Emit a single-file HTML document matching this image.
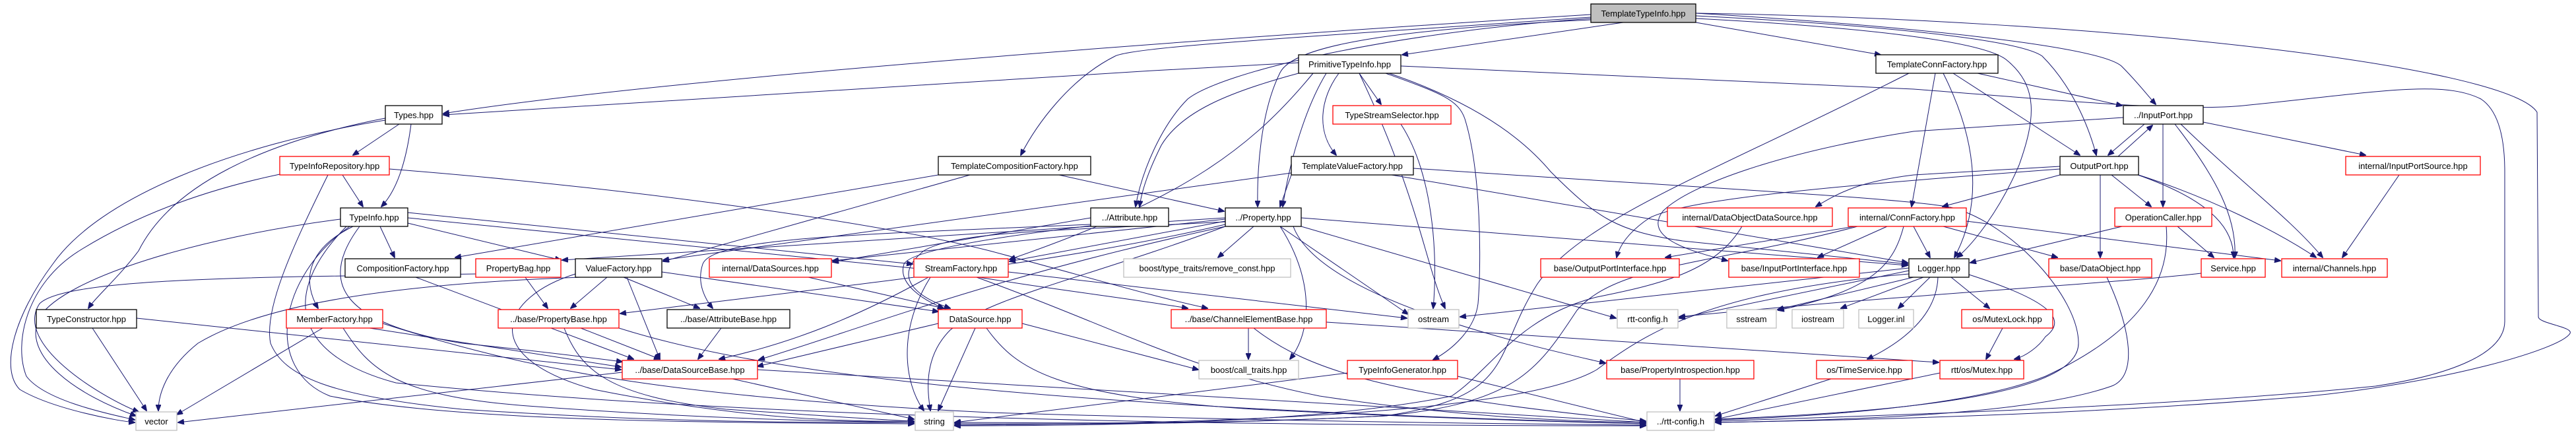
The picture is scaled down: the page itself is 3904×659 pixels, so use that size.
<!DOCTYPE html>
<html><head><meta charset="utf-8"><style>
html,body{margin:0;padding:0;background:#fff;}
svg{display:block;}
text{font-family:"Liberation Sans",sans-serif;font-size:13px;fill:#000;text-anchor:middle;}
.b{fill:#fff;stroke:#000;stroke-width:1.3;}
.r{fill:#fff;stroke:#ff0000;stroke-width:1.3;}
.g{fill:#fff;stroke:#bfbfbf;stroke-width:1.3;}
.t{fill:#bfbfbf;stroke:#000;stroke-width:1.3;}
path{fill:none;stroke:#191970;stroke-width:1;marker-end:url(#a);}
</style></head><body>
<svg width="3904" height="659" viewBox="0 0 3904 659" xmlns="http://www.w3.org/2000/svg">
<defs><marker id="a" markerWidth="10" markerHeight="8" refX="9" refY="4" orient="auto" markerUnits="userSpaceOnUse"><path d="M0,0 L10,4 L0,8 z" style="fill:#191970;stroke:#191970;marker-end:none"/></marker></defs>
<g>
<path d="M2411,22 C1800,60 1000,120 672,172"/>
<path d="M1968,95 C1500,120 1000,150 672,174"/>
<path d="M2460,34 L2125,83"/>
<path d="M2570,34 L2850,83"/>
<path d="M2411,26 C2000,55 1720,70 1690,85 C1620,120 1570,190 1547,235"/>
<path d="M2411,28 C2100,50 1850,110 1800,150 C1760,190 1730,260 1721,313"/>
<path d="M2411,30 C2100,45 1960,70 1940,110 C1910,170 1905,260 1906,313"/>
<path d="M2570,20 C2900,40 3180,70 3215,100 C3240,125 3255,145 3267,158"/>
<path d="M2570,24 C2850,38 3060,60 3095,85 C3140,130 3165,190 3177,235"/>
<path d="M2570,28 C2800,40 3000,60 3040,90 C3090,130 3085,180 3060,250 C3030,320 2990,370 2966,390"/>
<path d="M2570,20 C3200,30 3800,100 3845,170 L3847,480 C3847,490 3900,495 3895,505 C3880,530 3700,580 3500,600 C3200,625 2900,635 2600,640"/>
<path d="M2123,100 L2900,135 C3100,150 3300,170 3400,160 C3600,140 3700,120 3760,150 C3790,170 3796,220 3796,260 L3796,487 C3796,540 3700,570 3600,585 C3300,615 2900,628 2600,638"/>
<path d="M2997,111 L3216,160"/>
<path d="M2960,111 L3152,235"/>
<path d="M2933,111 L2897,313"/>
<path d="M2945,111 C2990,200 3010,300 2962,390"/>
<path d="M2893,111 C2600,260 2400,330 2330,430 C2260,540 2300,600 2100,630 C1800,645 1600,640 1447,640"/>
<path d="M2060,111 L2093,158"/>
<path d="M2029,111 C2000,150 1995,200 2025,235"/>
<path d="M1968,111 C1860,140 1790,170 1760,220 C1740,260 1730,290 1727,313"/>
<path d="M2010,111 C1980,160 1955,240 1944,313"/>
<path d="M2100,111 C2180,140 2210,150 2220,180 C2245,260 2245,400 2240,460 C2235,500 2200,530 2172,545"/>
<path d="M2105,111 C2220,150 2300,200 2350,260 C2420,330 2450,350 2550,365 C2700,380 2800,390 2891,400"/>
<path d="M1990,111 C1900,220 1800,300 1530,393"/>
<path d="M605,188 L535,235"/>
<path d="M623,188 C615,250 600,290 578,313"/>
<path d="M584,179 C400,215 260,280 210,380 C180,420 145,450 134,467"/>
<path d="M584,182 C350,220 150,300 80,400 C20,480 0,560 30,590 C80,620 180,638 204,640"/>
<path d="M519,265 L550,313"/>
<path d="M424,264 C300,290 200,330 120,380 C40,430 20,520 40,570 C70,610 180,630 204,636"/>
<path d="M497,265 C440,380 400,470 410,520 C430,570 500,600 700,620 C1000,640 1200,640 1385,640"/>
<path d="M590,256 C900,280 1300,330 1500,380 C1650,420 1750,450 1830,467"/>
<path d="M1422,265 L690,390"/>
<path d="M1605,265 L1855,320"/>
<path d="M1470,265 L1005,396"/>
<path d="M1957,265 L1940,313"/>
<path d="M2109,265 L2891,398"/>
<path d="M1957,262 L1005,394"/>
<path d="M2142,255 C2500,280 2900,300 2960,315 C3050,340 3150,450 3150,520 C3150,580 3000,620 2600,635"/>
<path d="M3250,188 L3195,235"/>
<path d="M3210,237 L3262,190"/>
<path d="M3278,188 L3278,313"/>
<path d="M3296,188 C3360,270 3390,330 3387,390"/>
<path d="M3305,188 C3400,280 3470,330 3520,390"/>
<path d="M3339,185 L3585,235"/>
<path d="M3218,178 L2900,199 C2700,230 2560,280 2520,320 C2490,360 2560,380 2618,395"/>
<path d="M3200,265 L3260,313"/>
<path d="M3183,265 L3183,390"/>
<path d="M3240,265 C3340,300 3385,340 3385,390"/>
<path d="M3241,265 C3350,300 3450,350 3510,390"/>
<path d="M3122,265 L2944,313"/>
<path d="M3122,256 C2800,280 2560,300 2500,330 C2470,350 2455,370 2450,390"/>
<path d="M3122,252 L2900,265 C2820,275 2790,290 2752,313"/>
<path d="M2811,343 L2524,390"/>
<path d="M2860,343 L2755,390"/>
<path d="M2900,343 L2925,390"/>
<path d="M2945,343 L3118,390"/>
<path d="M2980,335 L3456,395"/>
<path d="M2885,343 C2870,400 2840,440 2695,470"/>
<path d="M2815,343 C2600,400 2450,400 2390,470 C2330,560 2300,610 2100,630 C1800,645 1600,642 1447,642"/>
<path d="M2640,343 C2600,410 2520,430 2420,450 C2300,480 2260,560 2200,600 C2000,640 1700,645 1447,645"/>
<path d="M3216,343 L2986,398"/>
<path d="M3300,343 L3355,390"/>
<path d="M3283,343 C3290,420 3250,500 3100,570 C3000,610 2800,630 2600,636"/>
<path d="M3636,265 L3550,390"/>
<path d="M3193,420 C3230,500 3240,570 3200,585 C3100,620 2900,635 2600,640"/>
<path d="M3336,414 C3200,430 2900,445 2545,480"/>
<path d="M2893,406 L2213,480"/>
<path d="M2893,410 L2545,482"/>
<path d="M2900,420 L2694,469"/>
<path d="M2915,420 L2790,467"/>
<path d="M2925,420 L2877,467"/>
<path d="M2957,420 L3015,467"/>
<path d="M2937,420 C2935,480 2880,520 2830,544"/>
<path d="M2984,416 C3090,450 3140,480 3100,510 C3090,525 3070,540 3053,544"/>
<path d="M2893,415 C2600,440 2500,500 2420,560 C2300,630 1800,642 1447,644"/>
<path d="M3035,497 L3010,544"/>
<path d="M2775,574 L2600,630"/>
<path d="M2940,565 L2600,635"/>
<path d="M2546,574 L2546,622"/>
<path d="M2209,570 L2494,640"/>
<path d="M2042,565 L1447,640"/>
<path d="M1857,330 L852,394"/>
<path d="M1857,332 L1262,395"/>
<path d="M1857,335 L1530,396"/>
<path d="M1900,343 L1846,390"/>
<path d="M1857,336 C1600,350 1450,350 1400,380 C1350,420 1390,450 1440,467"/>
<path d="M1857,340 C1600,400 1300,430 940,475"/>
<path d="M1940,343 L2134,476"/>
<path d="M1972,330 L2891,402"/>
<path d="M1960,343 C2000,450 2300,520 2433,550"/>
<path d="M1857,343 C1650,420 1500,450 1440,500 C1400,540 1405,590 1410,622"/>
<path d="M1972,343 L2449,482"/>
<path d="M1940,343 C1990,420 1990,500 1955,544"/>
<path d="M1857,343 C1500,420 1300,500 1150,545"/>
<path d="M1653,330 L1262,397"/>
<path d="M1653,340 C1300,355 1080,360 1065,400 C1055,430 1070,455 1080,467"/>
<path d="M1653,342 C1500,360 1380,380 1370,400 C1360,430 1400,455 1430,467"/>
<path d="M576,343 L598,390"/>
<path d="M618,338 L850,394"/>
<path d="M618,322 L1383,400"/>
<path d="M618,330 L1422,410 C1600,440 1700,450 1800,467"/>
<path d="M535,343 C460,380 460,430 482,467"/>
<path d="M516,332 C300,360 100,420 60,480 C30,540 120,600 206,630"/>
<path d="M530,343 C420,420 400,560 500,600 C700,640 1100,640 1385,642"/>
<path d="M545,343 C480,430 520,490 700,520 C800,530 880,540 943,548"/>
<path d="M525,343 C420,450 450,540 600,580 C1200,640 2000,645 2494,645"/>
<path d="M630,420 L960,544"/>
<path d="M796,420 L830,467"/>
<path d="M721,415 C400,420 100,420 60,460 C20,520 150,600 210,624"/>
<path d="M920,420 L865,467"/>
<path d="M945,420 L1060,467"/>
<path d="M950,420 L1000,544"/>
<path d="M1003,412 L1422,472"/>
<path d="M880,420 C600,430 400,460 300,520 C250,560 240,600 240,622"/>
<path d="M872,415 C760,450 720,540 900,590 C1100,630 1250,640 1385,638"/>
<path d="M1225,420 L1430,467"/>
<path d="M1407,420 C1300,480 1200,520 1090,544"/>
<path d="M1410,420 C1360,500 1370,580 1400,622"/>
<path d="M1528,412 L2132,482"/>
<path d="M1480,420 C1700,500 1800,560 2000,600 C2200,630 2350,638 2494,640"/>
<path d="M1093,497 L1058,544"/>
<path d="M1422,490 L1148,555"/>
<path d="M1478,497 L1422,622"/>
<path d="M1549,490 L1816,560"/>
<path d="M1495,497 C1540,560 1600,600 1900,620 C2200,635 2400,640 2494,642"/>
<path d="M1892,497 L1892,544"/>
<path d="M2010,488 L2938,549"/>
<path d="M1900,497 C1980,560 2100,600 2494,638"/>
<path d="M140,497 L222,622"/>
<path d="M207,482 L941,560"/>
<path d="M489,497 L268,628"/>
<path d="M560,497 L941,556"/>
<path d="M520,497 C560,560 600,600 800,615 C1000,630 1200,638 1385,640"/>
<path d="M580,490 C800,560 1000,600 1500,625 C2000,640 2300,642 2494,644"/>
<path d="M880,497 L1000,544"/>
<path d="M855,497 C880,560 920,600 1100,620 C1250,630 1330,636 1385,638"/>
<path d="M938,497 C1200,580 1700,620 2494,642"/>
<path d="M943,564 L270,640"/>
<path d="M1110,574 L1385,635"/>
<path d="M1148,560 L2494,640"/>
<path d="M2123,188 C2170,260 2180,380 2172,467"/>
<path d="M2060,111 C2150,300 2160,400 2190,467"/>
</g>
<g>
<rect class="t" x="2411" y="6" width="159" height="28"/><text x="2490.5" y="25">TemplateTypeInfo.hpp</text>
<rect class="b" x="1968" y="83" width="155" height="28"/><text x="2045.5" y="102">PrimitiveTypeInfo.hpp</text>
<rect class="b" x="2843" y="83" width="185" height="28"/><text x="2935.5" y="102">TemplateConnFactory.hpp</text>
<rect class="b" x="584" y="160" width="86" height="28"/><text x="627" y="179">Types.hpp</text>
<rect class="r" x="2020" y="160" width="179" height="28"/><text x="2109.5" y="179">TypeStreamSelector.hpp</text>
<rect class="b" x="3218" y="160" width="121" height="28"/><text x="3278.5" y="179">../InputPort.hpp</text>
<rect class="r" x="424" y="237" width="166" height="28"/><text x="507" y="256">TypeInfoRepository.hpp</text>
<rect class="b" x="1422" y="237" width="231" height="28"/><text x="1537.5" y="256">TemplateCompositionFactory.hpp</text>
<rect class="b" x="1957" y="237" width="185" height="28"/><text x="2049.5" y="256">TemplateValueFactory.hpp</text>
<rect class="b" x="3122" y="237" width="119" height="28"/><text x="3181.5" y="256">OutputPort.hpp</text>
<rect class="r" x="3555" y="237" width="204" height="28"/><text x="3657" y="256">internal/InputPortSource.hpp</text>
<rect class="b" x="516" y="315" width="102" height="28"/><text x="567" y="334">TypeInfo.hpp</text>
<rect class="b" x="1653" y="315" width="118" height="28"/><text x="1712" y="334">../Attribute.hpp</text>
<rect class="b" x="1857" y="315" width="115" height="28"/><text x="1914.5" y="334">../Property.hpp</text>
<rect class="r" x="2527" y="315" width="250" height="28"/><text x="2652" y="334">internal/DataObjectDataSource.hpp</text>
<rect class="r" x="2801" y="315" width="179" height="28"/><text x="2890.5" y="334">internal/ConnFactory.hpp</text>
<rect class="r" x="3205" y="315" width="147" height="28"/><text x="3278.5" y="334">OperationCaller.hpp</text>
<rect class="b" x="523" y="392" width="175" height="28"/><text x="610.5" y="411">CompositionFactory.hpp</text>
<rect class="r" x="721" y="392" width="129" height="28"/><text x="785.5" y="411">PropertyBag.hpp</text>
<rect class="b" x="872" y="392" width="131" height="28"/><text x="937.5" y="411">ValueFactory.hpp</text>
<rect class="r" x="1075" y="392" width="185" height="28"/><text x="1167.5" y="411">internal/DataSources.hpp</text>
<rect class="r" x="1385" y="392" width="143" height="28"/><text x="1456.5" y="411">StreamFactory.hpp</text>
<rect class="g" x="1703" y="392" width="253" height="28"/><text x="1829.5" y="411">boost/type_traits/remove_const.hpp</text>
<rect class="r" x="2335" y="392" width="210" height="28"/><text x="2440" y="411">base/OutputPortInterface.hpp</text>
<rect class="r" x="2620" y="392" width="198" height="28"/><text x="2719" y="411">base/InputPortInterface.hpp</text>
<rect class="b" x="2893" y="392" width="91" height="28"/><text x="2938.5" y="411">Logger.hpp</text>
<rect class="r" x="3105" y="392" width="156" height="28"/><text x="3183" y="411">base/DataObject.hpp</text>
<rect class="r" x="3336" y="392" width="97" height="28"/><text x="3384.5" y="411">Service.hpp</text>
<rect class="r" x="3458" y="392" width="160" height="28"/><text x="3538" y="411">internal/Channels.hpp</text>
<rect class="b" x="55" y="469" width="152" height="28"/><text x="131" y="488">TypeConstructor.hpp</text>
<rect class="r" x="434" y="469" width="146" height="28"/><text x="507" y="488">MemberFactory.hpp</text>
<rect class="r" x="755" y="469" width="183" height="28"/><text x="846.5" y="488">../base/PropertyBase.hpp</text>
<rect class="b" x="1011" y="469" width="186" height="28"/><text x="1104" y="488">../base/AttributeBase.hpp</text>
<rect class="r" x="1422" y="469" width="127" height="28"/><text x="1485.5" y="488">DataSource.hpp</text>
<rect class="r" x="1775" y="469" width="235" height="28"/><text x="1892.5" y="488">../base/ChannelElementBase.hpp</text>
<rect class="g" x="2134" y="469" width="77" height="28"/><text x="2172.5" y="488">ostream</text>
<rect class="g" x="2451" y="469" width="92" height="28"/><text x="2497" y="488">rtt-config.h</text>
<rect class="g" x="2617" y="469" width="75" height="28"/><text x="2654.5" y="488">sstream</text>
<rect class="g" x="2716" y="469" width="78" height="28"/><text x="2755" y="488">iostream</text>
<rect class="g" x="2817" y="469" width="83" height="28"/><text x="2858.5" y="488">Logger.inl</text>
<rect class="r" x="2973" y="469" width="138" height="28"/><text x="3042" y="488">os/MutexLock.hpp</text>
<rect class="r" x="943" y="546" width="205" height="28"/><text x="1045.5" y="565">../base/DataSourceBase.hpp</text>
<rect class="g" x="1817" y="546" width="151" height="28"/><text x="1892.5" y="565">boost/call_traits.hpp</text>
<rect class="r" x="2042" y="546" width="167" height="28"/><text x="2125.5" y="565">TypeInfoGenerator.hpp</text>
<rect class="r" x="2435" y="546" width="223" height="28"/><text x="2546.5" y="565">base/PropertyIntrospection.hpp</text>
<rect class="r" x="2753" y="546" width="145" height="28"/><text x="2825.5" y="565">os/TimeService.hpp</text>
<rect class="r" x="2940" y="546" width="127" height="28"/><text x="3003.5" y="565">rtt/os/Mutex.hpp</text>
<rect class="g" x="206" y="624" width="62" height="28"/><text x="237" y="643">vector</text>
<rect class="g" x="1387" y="624" width="58" height="28"/><text x="1416" y="643">string</text>
<rect class="g" x="2496" y="624" width="102" height="28"/><text x="2547" y="643">../rtt-config.h</text>
</g>
</svg>
</body></html>
